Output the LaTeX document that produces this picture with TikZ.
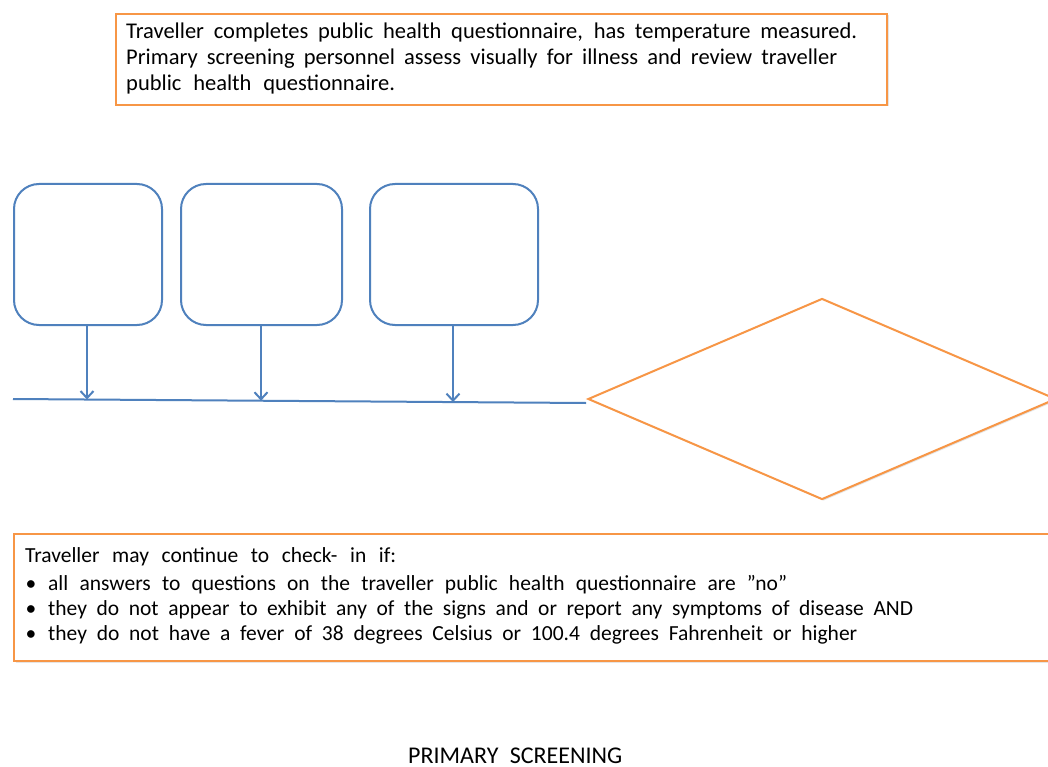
\documentclass[tikz,border=0pt]{standalone}
\usepackage{fontspec}
\setmainfont{Carlito}
\usetikzlibrary{shapes.geometric,arrows.meta,shadows}
\definecolor{boxorange}{RGB}{247,150,70}
\definecolor{boxblue}{RGB}{79,129,189}
\tikzset{
  notebox/.style={draw=boxorange,line width=2pt,fill=white,rectangle,anchor=north west,inner sep=0pt,
     drop shadow={shadow xshift=1.5pt,shadow yshift=-1.5pt,opacity=0.2}},
  stagebox/.style={draw=boxblue,line width=2pt,rounded corners=25pt,fill=white,anchor=north west,inner sep=0pt},
  decision/.style={draw=boxorange,line width=2pt,diamond,fill=white,inner sep=0pt,
     drop shadow={shadow xshift=1.5pt,shadow yshift=-1.5pt,opacity=0.2}},
  flow/.style={draw=boxblue,line width=2pt},
  flowarrow/.style={draw=boxblue,line width=2pt,-{Straight Barb[length=7pt,width=13pt,line width=2pt]}},
  bodytext/.style={anchor=base west,inner sep=0pt,font=\fontsize{22.5}{26}\selectfont},
  listtext/.style={anchor=base west,inner sep=0pt,font=\fontsize{21.5}{26}\selectfont},
}
\newcommand{\fitline}[2]{\makebox[#1][s]{#2}}
\newcommand{\bulletmark}{\makebox[23pt][l]{\hspace{0.5pt}•}}
\begin{document}
\begin{tikzpicture}[x=1pt,y=-1pt]
\useasboundingbox[fill=white] (0,0) rectangle (1048,767);
% top note
\node[notebox,minimum width=771pt,minimum height=91pt] (top) at (115,13) {};
\node[bodytext] (t1) at (126,39) {\fitline{731pt}{Traveller completes public health questionnaire, has temperature measured.}};
\node[bodytext] (t2) at (126,65) {\fitline{711pt}{Primary screening personnel assess visually for illness and review traveller}};
\node[bodytext] (t3) at (126,91) {\fitline{269pt}{public health questionnaire.}};
% stage boxes
\node[stagebox,minimum width=148pt,minimum height=141pt] (b1) at (13,183) {};
\node[stagebox,minimum width=161pt,minimum height=141pt] (b2) at (180,183) {};
\node[stagebox,minimum width=168pt,minimum height=141pt] (b3) at (369,183) {};
% decision
\node[decision,minimum width=468pt,minimum height=201pt] (dec) at (822,399) {};
% collector line
\coordinate (lineL) at (13,399);
\draw[flow] (lineL) -- ([xshift=-1pt,yshift=-4pt]dec.west);
\coordinate (a1) at (87,399.5);
\coordinate (a2) at (261,400.7);
\coordinate (a3) at (453,402.1);
\draw[flowarrow] (b1.south -| a1) -- (a1);
\draw[flowarrow] (b2.south -| a2) -- (a2);
\draw[flowarrow] (b3.south -| a3) -- (a3);
% bottom note
\node[notebox,minimum width=1060pt,minimum height=127pt] (bot) at (13,533) {};
\node[listtext] (l0) at (25,562) {\fitline{371pt}{Traveller may continue to check- in if:}};
\node[listtext] (l1) at (25,590) {\bulletmark\fitline{739pt}{all answers to questions on the traveller public health questionnaire are ”no”}};
\node[listtext] (l2) at (25,615) {\bulletmark\fitline{865pt}{they do not appear to exhibit any of the signs and or report any symptoms of disease AND}};
\node[listtext] (l3) at (25,640) {\bulletmark\fitline{809pt}{they do not have a fever of 38 degrees Celsius or 100.4 degrees Fahrenheit or higher}};
% title
\node[anchor=base west,inner sep=0pt,font=\fontsize{24}{28}\selectfont] (title) at (408,763) {\fitline{214pt}{PRIMARY SCREENING}};
\end{tikzpicture}
\end{document}
